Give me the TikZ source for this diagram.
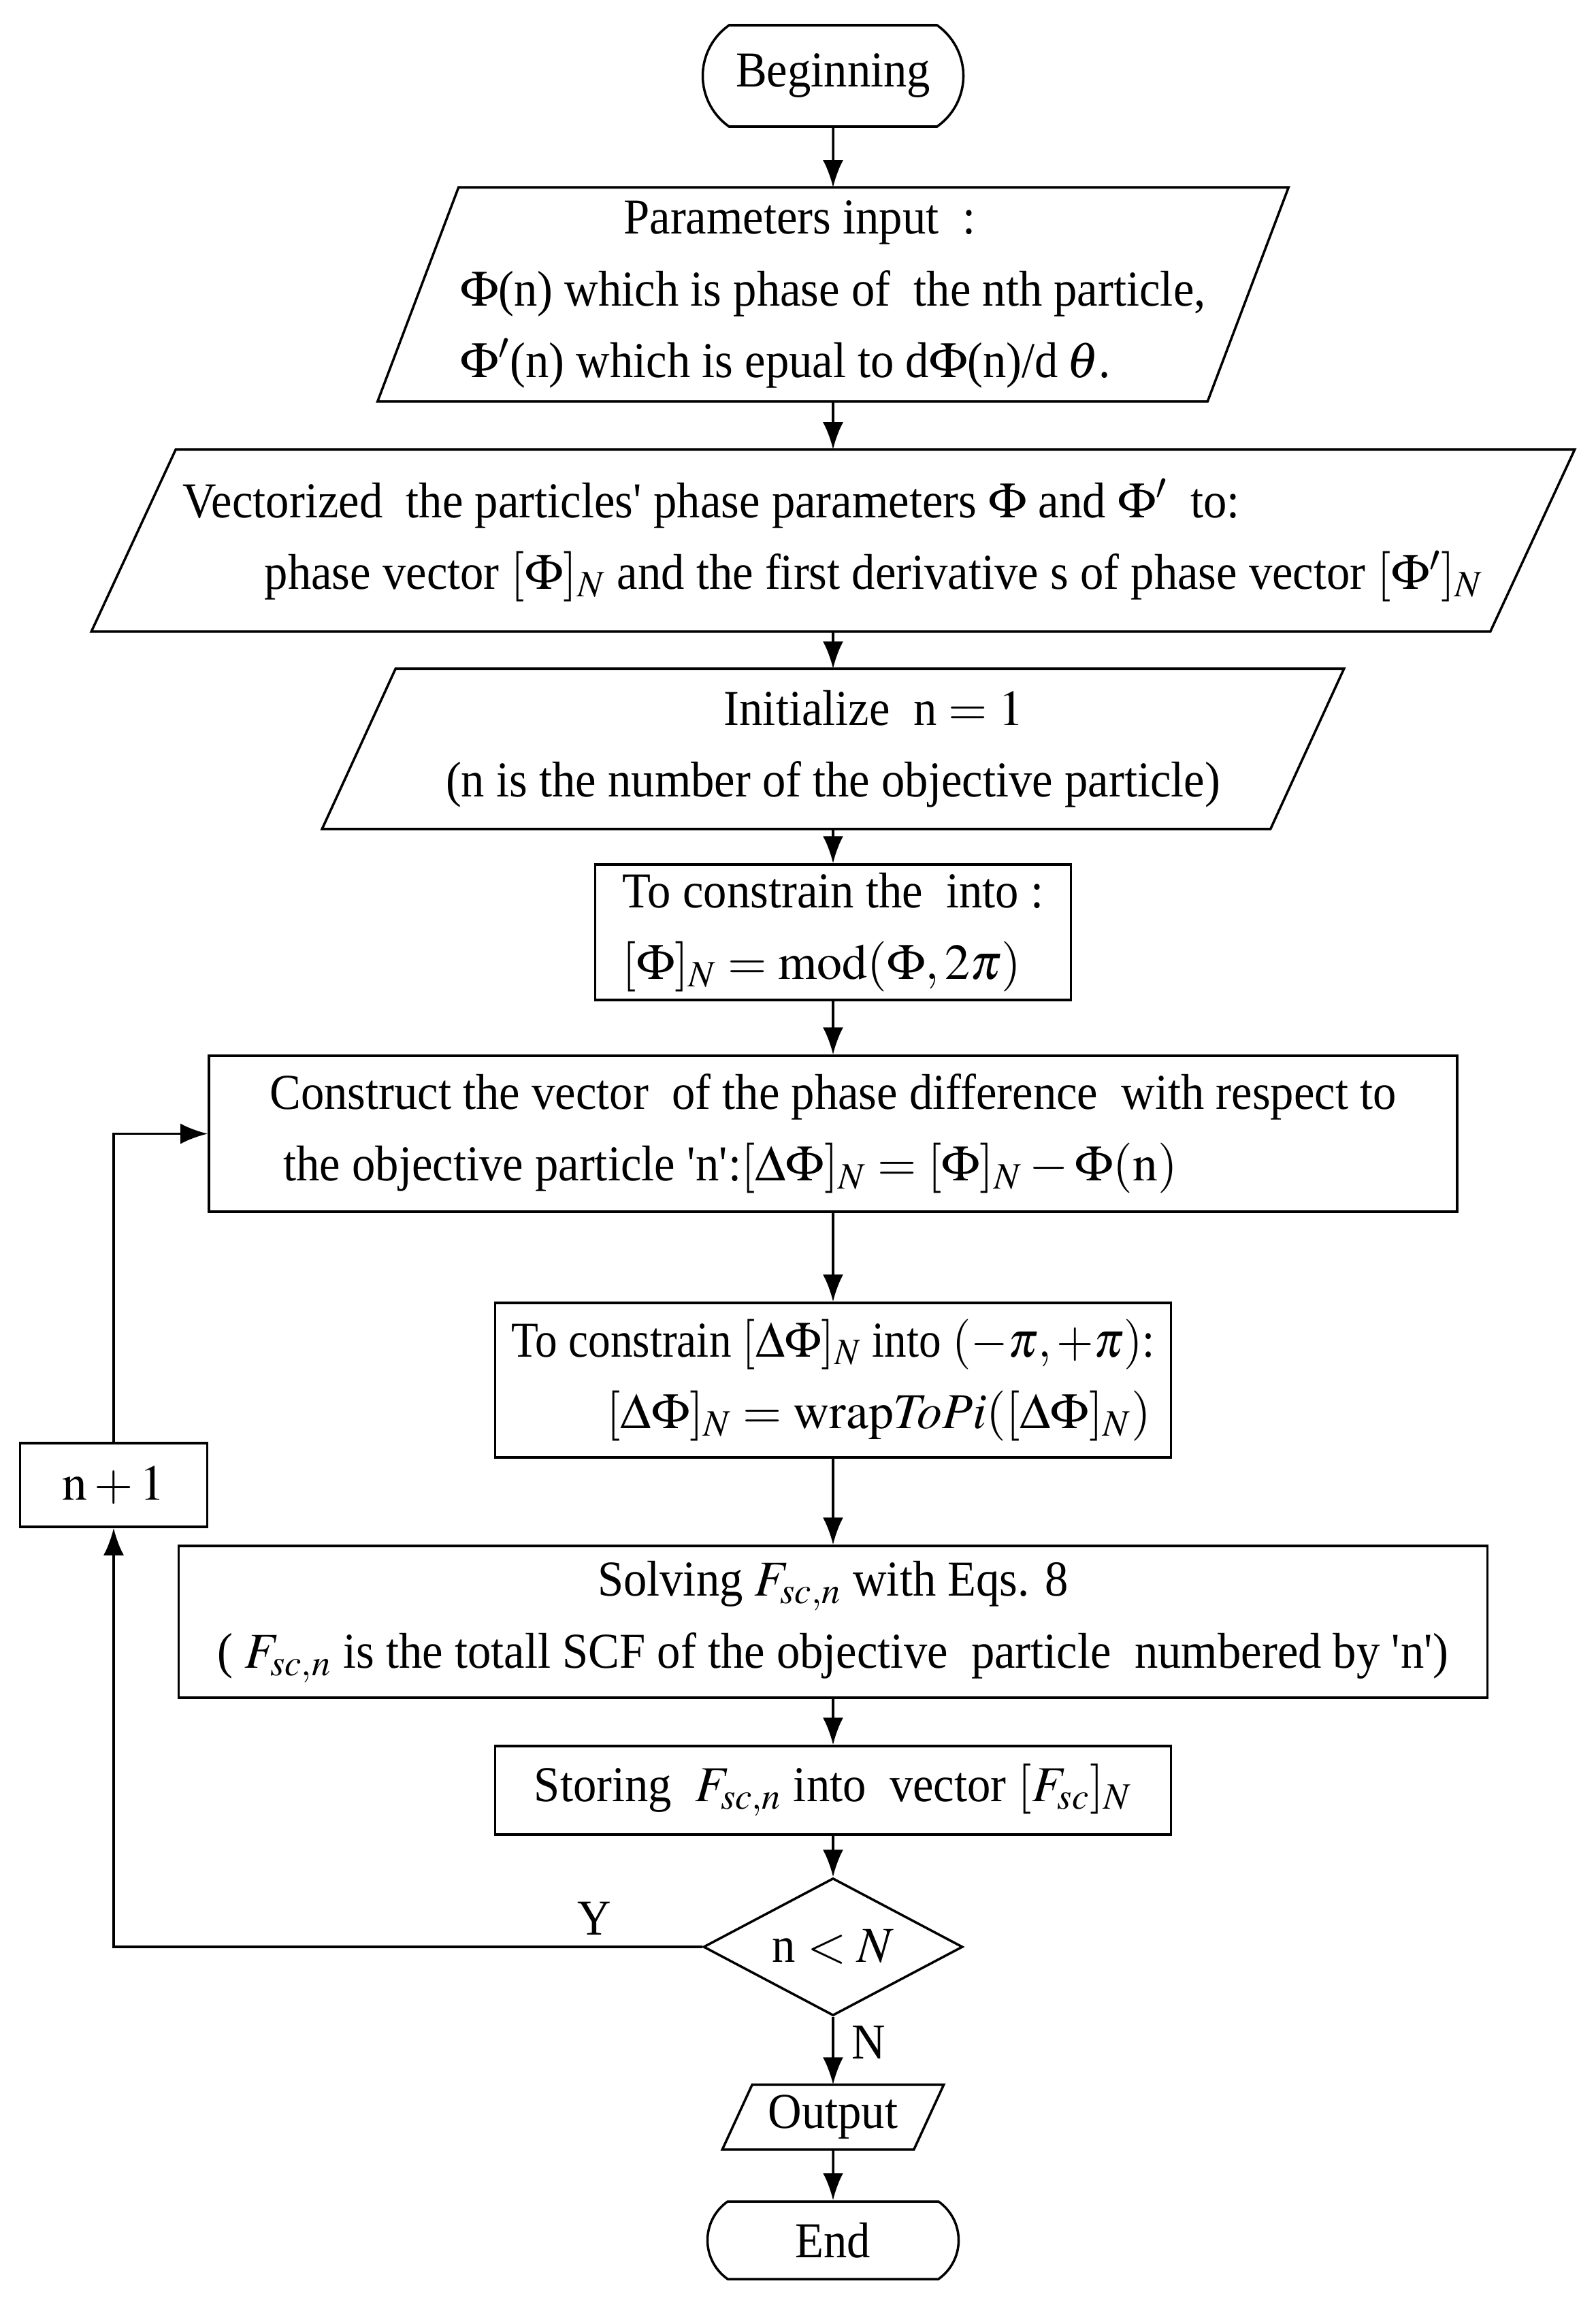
\documentclass[tikz,border=0pt]{standalone}
\usepackage{mathptmx}
\usepackage[no-math]{fontspec}
\setmainfont{Liberation Serif}[FakeStretch=0.93]
\usetikzlibrary{shapes.geometric,shapes.misc,arrows.meta}
\newcommand\drawpara[2]{\draw ([xshift=-#2]#1.south west) -- ([xshift=-#2]#1.south east) -- ([xshift=#2]#1.north east) -- ([xshift=#2]#1.north west) -- cycle;}
\begin{document}
\begin{tikzpicture}[
  line width=1pt,
  txt/.style={font=\fontsize{21}{30}\selectfont, inner sep=0pt},
  procbox/.style n args={2}{draw, rectangle, txt, minimum width=#1, minimum height=#2},
  iobox/.style n args={2}{rectangle, txt, minimum width=#1, minimum height=#2},
  term/.style n args={2}{draw, rounded rectangle, rounded rectangle arc length=110, txt, minimum width=#1, minimum height=#2},
  arr/.style={-{Latex[length=4mm,width=3mm]}},
  lab/.style={txt}
]
\fill[white] (0,0) rectangle (23.45,-33.92);
\useasboundingbox (0,0) rectangle (23.45,-33.92);

\node[term={3.83cm}{1.49cm}] (begin) at (12.24,-1.115) {Beginning};

\node[iobox={12.16cm}{3.11cm}, align=left] (p1) at (12.24,-4.325)
 {\hspace*{2.4cm}Parameters input\ \ :\\
  $\Phi$(n) which is phase of\ \ the nth particle,\\
  $\Phi'$(n) which is epual to d$\Phi$(n)/d\,$\theta$.};
\drawpara{p1}{0.595cm}

\node[iobox={20.52cm}{2.64cm}, align=left] (p2) at (12.24,-7.94)
 {Vectorized\ \ the particles\textquotesingle\ phase parameters $\Phi$ and $\Phi'$\ \ to:\\
  \hspace*{1.2cm}phase vector $[\Phi]_N$ and the first derivative s of phase vector $[\Phi']_N$};
\drawpara{p2}{0.62cm}

\node[iobox={13.9cm}{2.32cm}, align=center] (p3) at (12.24,-11.0)
 {\hspace*{1.2cm}Initialize\ \ n $=1$\\
  (n is the number of the objective particle)};
\drawpara{p3}{0.54cm}

\node[procbox={6.99cm}{1.99cm}, align=left] (b1) at (12.24,-13.695)
 {To constrain the\ \ into :\\
  $[\Phi]_N=\mathrm{mod}(\Phi,2\pi)$};

\node[procbox={18.34cm}{2.29cm}, align=left] (b2) at (12.24,-16.655)
 {Construct the vector\ \ of the phase difference\ \ with respect to\\
  \hspace*{0.2cm}the objective particle \textquotesingle n\textquotesingle:$[\Delta\Phi]_N=[\Phi]_N-\Phi(\mathrm{n})$};

\node[procbox={9.93cm}{2.27cm}, align=left] (b3) at (12.24,-20.275)
 {\scalebox{0.95}[1]{To constrain $[\Delta\Phi]_N$ into $(-\pi,+\pi)$:}\\
  \hspace*{1.4cm}$[\Delta\Phi]_N=\mathrm{wrap}\mathit{ToPi}([\Delta\Phi]_N)$};

\node[procbox={2.75cm}{1.23cm}] (nplus) at (1.67,-21.815) {$\mathrm{n}+1$};

\node[procbox={19.23cm}{2.23cm}, align=center] (b4) at (12.24,-23.825)
 {Solving $F_{sc,n}$ with Eqs. 8\\
  ( $F_{sc,n}$ is the totall SCF of the objective\ \ particle\ \ numbered by \textquotesingle n\textquotesingle)};

\node[procbox={9.93cm}{1.30cm}] (b5) at (12.24,-26.30)
 {Storing\ \ $F_{sc,n}$ into\ \ vector $[F_{sc}]_N$};

\node[draw, diamond, txt, aspect=1.9, minimum width=3.81cm, minimum height=2.02cm] (dia) at (12.24,-28.60) {n $<N$};

\node[iobox={2.78cm}{0.92cm}] (out) at (12.24,-31.10) {Output};
\drawpara{out}{0.22cm}

\node[term={3.69cm}{1.14cm}] (end) at (12.24,-32.91) {End};

\draw[arr] (begin) -- (p1);
\draw[arr] (p1) -- (p2);
\draw[arr] (p2) -- (p3);
\draw[arr] (p3) -- (b1);
\draw[arr] (b1) -- (b2);
\draw[arr] (b2) -- (b3);
\draw[arr] (b3) -- (b4);
\draw[arr] (b4) -- (b5);
\draw[arr] (b5) -- (dia);
\draw[arr] (dia) -- (out);
\draw[arr] (out) -- (end);
\draw[arr] (dia.west) -| (nplus.south);
\draw[arr] (nplus.north) |- (b2.west);

\node[lab] (ylab) at (8.73,-28.18) {Y};
\node[lab] (nlab) at (12.76,-30.0) {N};
\end{tikzpicture}
\end{document}
